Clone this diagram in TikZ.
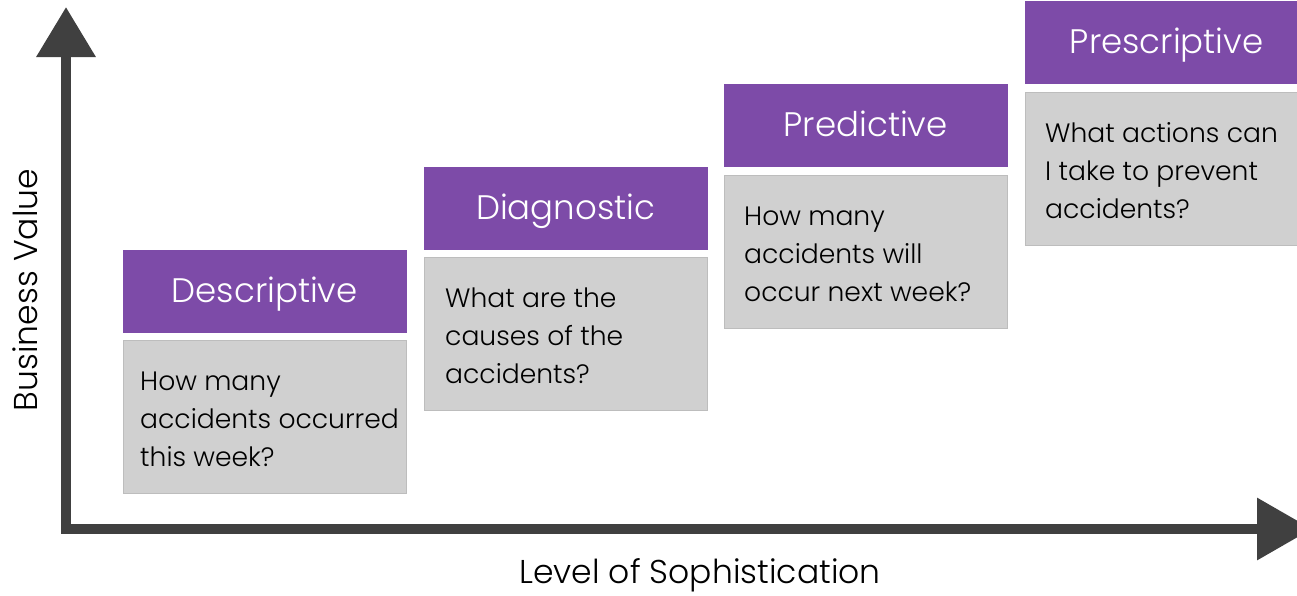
\documentclass[tikz,border=0pt]{standalone}
\usepackage{fontspec}
\setmainfont{Poppins Light}
\usetikzlibrary{arrows.meta}
\definecolor{purp}{HTML}{7D4BA8}
\definecolor{boxgray}{HTML}{D0D0D0}
\definecolor{boxline}{HTML}{BDBDBD}
\definecolor{axisgray}{HTML}{404040}
\begin{document}
\begin{tikzpicture}[x=1pt,y=-1pt,
  title/.style={fill=purp, draw=purp, minimum width=283pt, minimum height=82pt,
    text=white, font=\fontsize{34}{38}\selectfont, inner sep=0pt,
    text height=23.5pt, text depth=0pt, anchor=north west},
  question/.style={fill=boxgray, draw=boxline, line width=0.8pt,
    minimum width=283pt, minimum height=153pt, anchor=north west, inner sep=0pt},
  qtext/.style={anchor=base west, align=left,
    font=\fontsize{26.6}{38}\selectfont, inner sep=0pt},
  axislabel/.style={font=\fontsize{33}{38}\selectfont, text=black},
  axisline/.style={draw=axisgray, line width=10pt,
    {Triangle[length=50pt,width=57pt]}-{Triangle[length=55pt,width=60pt]}}]
\useasboundingbox (0,0) rectangle (1297,595);
\clip (0,0) rectangle (1297,595);
\fill[white] (0,0) rectangle (1297,595);

% axes
\coordinate (ytip) at (66,7);
\coordinate (origin) at (66,529);
\coordinate (xtip) at (1312,529);
\draw[axisline, line join=miter] (ytip) -- (origin) -- (xtip);

\node[axislabel, rotate=90] (ylab) at (25,290) {Business Value};
\node[axislabel] (xlab) at (700,575) {Level of Sophistication};

% Descriptive (anchor = baseline of last line)
\node[title] (t1) at (123,250) {Descriptive};
\node[question] (q1) at (123,340) {};
\node[qtext] (x1) at (140,466) {How many\\accidents occurred\\this week?};

% Diagnostic
\node[title] (t2) at (424,167) {Diagnostic};
\node[question] (q2) at (424,257) {};
\node[qtext] (x2) at (445,383) {What are the\\causes of the\\accidents?};

% Predictive
\node[title] (t3) at (724,84) {Predictive};
\node[question] (q3) at (724,175) {};
\node[qtext] (x3) at (744,301) {How many\\accidents will\\occur next week?};

% Prescriptive
\node[title] (t4) at (1025,1) {Prescriptive};
\node[question] (q4) at (1025,92) {};
\node[qtext] (x4) at (1045,218) {What actions can\\I take to prevent\\accidents?};
\end{tikzpicture}
\end{document}
